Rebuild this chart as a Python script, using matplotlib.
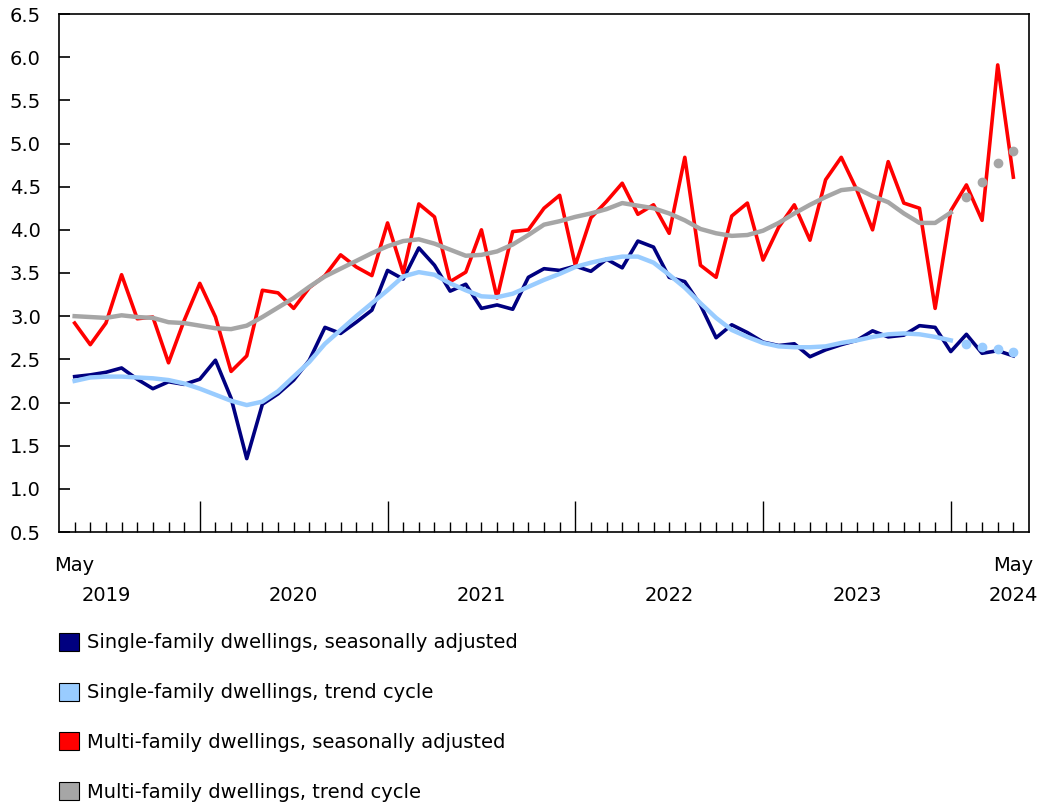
import matplotlib
matplotlib.use("Agg")
import matplotlib.pyplot as plt
import matplotlib.patches as mpatches
import numpy as np

# Données mensuelles, mai 2019 -> mai 2024
months = np.arange(61)

single_sa = [2.30, 2.32, 2.35, 2.40, 2.27, 2.16, 2.24, 2.21, 2.27, 2.49,
             2.05, 1.35, 1.98, 2.10, 2.26, 2.49, 2.87, 2.80, 2.93, 3.07,
             3.53, 3.43, 3.79, 3.59, 3.29, 3.37, 3.09, 3.13, 3.08, 3.45,
             3.55, 3.53, 3.58, 3.52, 3.66, 3.56, 3.87, 3.80, 3.45, 3.40,
             3.13, 2.75, 2.90, 2.81, 2.70, 2.66, 2.68, 2.53, 2.61, 2.67,
             2.72, 2.83, 2.76, 2.78, 2.89, 2.87, 2.59, 2.79, 2.57, 2.60,
             2.54]

single_trend = [2.25, 2.29, 2.30, 2.30, 2.29, 2.28, 2.26, 2.22, 2.16, 2.09,
                2.02, 1.97, 2.01, 2.13, 2.30, 2.47, 2.68, 2.84, 3.00, 3.15,
                3.30, 3.46, 3.51, 3.48, 3.38, 3.30, 3.23, 3.22, 3.26, 3.34,
                3.42, 3.49, 3.57, 3.62, 3.66, 3.69, 3.69, 3.62, 3.48, 3.33,
                3.15, 2.98, 2.84, 2.76, 2.69, 2.65, 2.64, 2.64, 2.65, 2.69,
                2.72, 2.76, 2.79, 2.80, 2.79, 2.76, 2.72, 2.68, 2.64, 2.62,
                2.58]

multi_sa = [2.92, 2.67, 2.92, 3.48, 2.97, 2.99, 2.46, 2.95, 3.38, 2.99,
            2.36, 2.54, 3.30, 3.27, 3.09, 3.33, 3.47, 3.71, 3.57, 3.47,
            4.08, 3.50, 4.30, 4.15, 3.40, 3.51, 4.00, 3.21, 3.98, 4.00,
            4.25, 4.40, 3.59, 4.14, 4.33, 4.54, 4.18, 4.29, 3.96, 4.84,
            3.59, 3.45, 4.16, 4.31, 3.65, 4.03, 4.29, 3.88, 4.58, 4.84,
            4.46, 4.00, 4.79, 4.31, 4.25, 3.09, 4.22, 4.52, 4.11, 5.91,
            4.61]

multi_trend = [3.00, 2.99, 2.98, 3.01, 2.99, 2.98, 2.93, 2.92, 2.89, 2.86,
               2.85, 2.89, 2.99, 3.10, 3.21, 3.34, 3.46, 3.55, 3.64, 3.73,
               3.81, 3.87, 3.89, 3.84, 3.77, 3.70, 3.71, 3.75, 3.83, 3.94,
               4.06, 4.10, 4.15, 4.19, 4.24, 4.31, 4.28, 4.25, 4.19, 4.11,
               4.01, 3.96, 3.93, 3.94, 3.99, 4.08, 4.19, 4.29, 4.38, 4.46,
               4.48, 4.39, 4.32, 4.19, 4.08, 4.08, 4.20, 4.38, 4.55, 4.77,
               4.91]

# la tendance est en pointillés (points isolés) sur les 4 derniers mois
n_solid = 57

year_labels = ["2019", "2020", "2021", "2022", "2023", "2024"]
year_pos = [2, 14, 26, 38, 50, 60]
jan_pos = [8, 20, 32, 44, 56]

labels = [
    "Single-family dwellings, seasonally adjusted",
    "Single-family dwellings, trend cycle",
    "Multi-family dwellings, seasonally adjusted",
    "Multi-family dwellings, trend cycle",
]

NAVY = "#000080"
LIGHT = "#99ccff"
RED = "#ff0000"
GREY = "#a6a6a6"
FS = 14

plt.rcParams["font.family"] = ["DejaVu Sans"]

fig = plt.figure(figsize=(10.42, 8.06), dpi=100)
ax = fig.add_axes([59 / 1042, 1 - 532 / 806, 970 / 1042, 518 / 806])

ax.plot(months, single_sa, color=NAVY, linewidth=2.6, zorder=3)
ax.plot(months[:n_solid], single_trend[:n_solid], color=LIGHT, linewidth=3.2, zorder=4)
ax.plot(months[n_solid:], single_trend[n_solid:], "o", color=LIGHT, markersize=6, zorder=4)
ax.plot(months, multi_sa, color=RED, linewidth=2.6, zorder=3)
ax.plot(months[:n_solid], multi_trend[:n_solid], color=GREY, linewidth=3.2, zorder=4)
ax.plot(months[n_solid:], multi_trend[n_solid:], "o", color=GREY, markersize=6, zorder=4)

ax.set_xlim(-1, 61)
ax.set_ylim(0.5, 6.5)
ax.set_yticks(np.arange(0.5, 6.51, 0.5))
ax.set_yticklabels([f"{v:.1f}" for v in np.arange(0.5, 6.51, 0.5)])
ax.tick_params(axis="y", direction="in", length=8, width=1.2, pad=13, labelsize=FS)

ax.set_xticks(jan_pos)
ax.set_xticks([m for m in months if m not in jan_pos], minor=True)
ax.tick_params(axis="x", which="major", direction="in", length=22, width=1, labelbottom=False)
ax.tick_params(axis="x", which="minor", direction="in", length=7.5, width=1)

for s in ax.spines.values():
    s.set_color("black")
    s.set_linewidth(1.2)

trans = ax.get_xaxis_transform()
ax.text(0, -0.064, "May", transform=trans, ha="center", va="center", fontsize=FS)
ax.text(60, -0.064, "May", transform=trans, ha="center", va="center", fontsize=FS)
for lab, pos in zip(year_labels, year_pos):
    ax.text(pos, -0.122, lab, transform=trans, ha="center", va="center", fontsize=FS)

handles = [mpatches.Patch(facecolor=c, edgecolor="black", linewidth=0.8)
           for c in (NAVY, LIGHT, RED, GREY)]
fig.legend(handles, labels, loc="upper left", bbox_to_anchor=(51 / 1042, 1 - 625 / 806),
           frameon=False, fontsize=FS, handlelength=1.05, handleheight=1.05,
           handletextpad=0.4, labelspacing=1.55, borderaxespad=0)

plt.savefig("out.png", dpi=100)
plt.close()
